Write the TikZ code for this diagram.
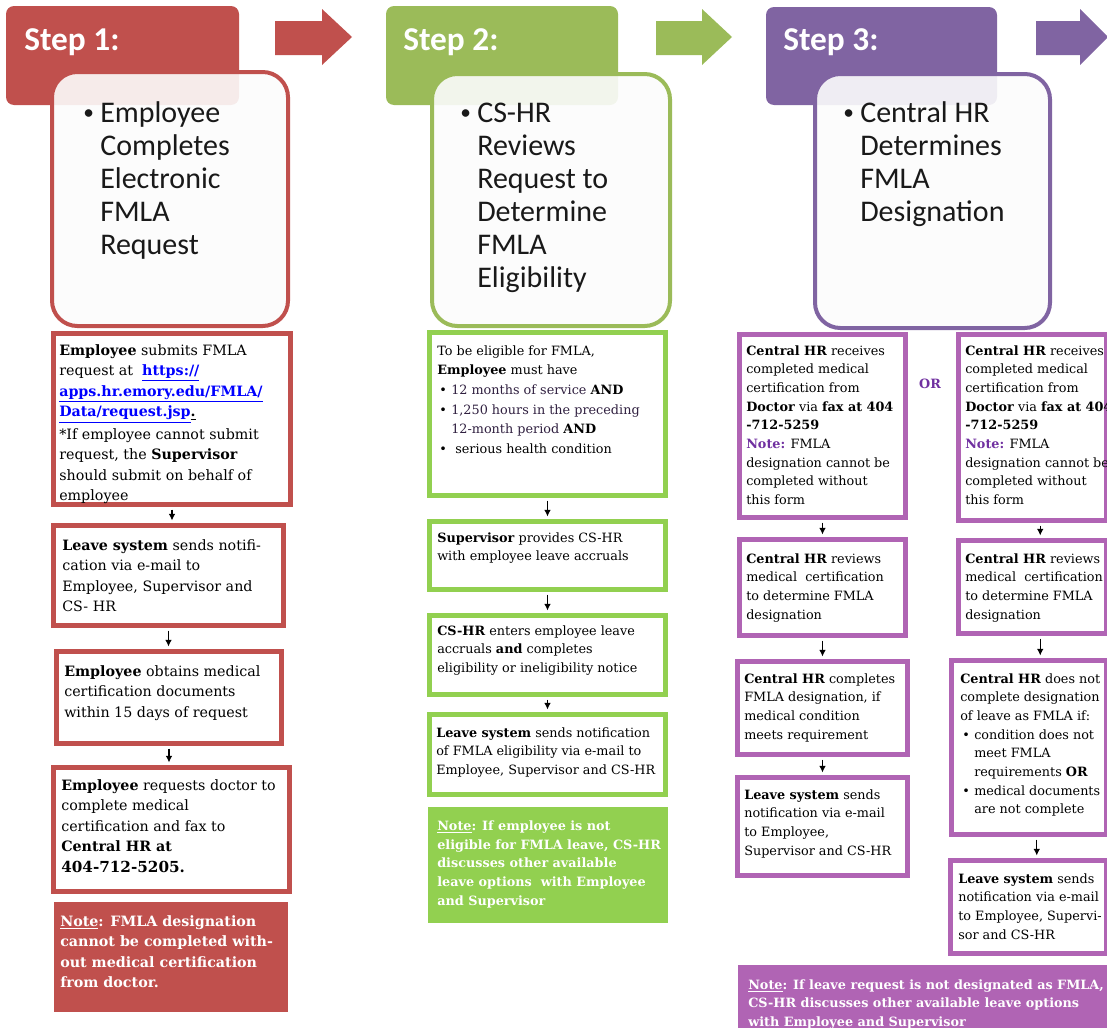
\documentclass[tikz,border=0pt]{standalone}
\usepackage{fontspec}
\setmainfont{DejaVu Serif}
\newfontfamily\calib{Carlito}
\usetikzlibrary{fit,arrows.meta}
\definecolor{stepred}{HTML}{C0504D}
\definecolor{stepgreen}{HTML}{9BBB59}
\definecolor{boxgreen}{HTML}{92D050}
\definecolor{steppurple}{HTML}{8064A2}
\definecolor{boxpurple}{HTML}{B064B4}
\definecolor{darkpurple}{HTML}{7030A0}
\definecolor{bullettxt}{HTML}{302040}
\definecolor{linkblue}{HTML}{0000FF}
\newcommand{\bul}{\makebox[10.5pt][l]{\hspace{1.5pt}•}}
\newcommand{\ind}{\hspace*{10.5pt}}
\newcommand{\sbul}{\makebox[11.25pt][l]{\hspace{-1.5pt}\raisebox{2pt}{\fontsize{16}{16}\selectfont •}}}
\newcommand{\sind}{\hspace*{11.25pt}}
\tikzset{
  hdr/.style={rounded corners=6pt, inner sep=0pt},
  stepbox/.style={draw, line width=3pt, rounded corners=19pt, fill=white!99!black, fill opacity=0.9, inner sep=0pt},
  hdrtxt/.style={anchor=base west, inner sep=0pt, text=white, font=\calib\bfseries\fontsize{25}{30}\selectfont},
  steptxt/.style={anchor=north west, inner sep=0pt, align=left, text=black!90, font=\calib\fontsize{22.5}{24.75}\selectfont},
  flowbox/.style={draw, line width=3.75pt, inner sep=0pt, fill=white},
  notebox/.style={inner sep=0pt},
  ftxtA/.style={anchor=north west, inner sep=0pt, align=left, font=\fontsize{10.7}{15.4}\selectfont},
  ftxtAA/.style={anchor=north west, inner sep=0pt, align=left, font=\fontsize{9.6}{14.7}\selectfont},
  ftxtB/.style={anchor=north west, inner sep=0pt, align=left, font=\fontsize{9.6}{13.9}\selectfont},
  ftxtC/.style={anchor=north west, inner sep=0pt, align=left, font=\fontsize{9.6}{14}\selectfont},
  flowarrow/.style={-{Latex[length=5pt,width=5pt]}, line width=0.8pt, shorten <=1.9pt, shorten >=1.9pt}
}
\begin{document}
\begin{tikzpicture}[x=0.75pt, y=-0.75pt]
\useasboundingbox (0,0) rectangle (1107,1028);
\clip (0,0) rectangle (1107,1028);

% ---------- headers ----------
\node[hdr, fill=stepred, fit={(6,6) (239,105)}] (h1) {};
\node[hdr, fill=stepgreen, fit={(386,6) (618,105)}] (h2) {};
\node[hdr, fill=steppurple, fit={(766,7) (997,105)}] (h3) {};
\node[hdrtxt] (h1t) at (24,50) {Step 1:};
\node[hdrtxt] (h2t) at (403,50) {Step 2:};
\node[hdrtxt] (h3t) at (783,50) {Step 3:};

% ---------- block arrows ----------
\fill[stepred] (275,21) -- (322,21) -- (322,9) -- (352,37) -- (322,65) -- (322,55) -- (275,55) -- cycle;
\fill[stepgreen] (656,21) -- (702,21) -- (702,9) -- (732,37) -- (702,65) -- (702,55) -- (656,55) -- cycle;
\fill[steppurple] (1036,21) -- (1080,21) -- (1080,9) -- (1108,37) -- (1080,65) -- (1080,55) -- (1036,55) -- cycle;

% ---------- step boxes ----------
\node[stepbox, draw=stepred, fit={(52,72) (288,326)}] (s1) {};
\node[stepbox, draw=stepgreen, fit={(432,74) (670,326)}] (s2) {};
\node[stepbox, draw=steppurple, fit={(815,74) (1050,328)}] (s3) {};
\node[steptxt] (s1t) at (85,99) {\strut\sbul Employee\\\sind Completes\\\sind Electronic\\\sind FMLA\\\sind Request};
\node[steptxt] (s2t) at (462,99) {\strut\sbul CS-HR\\\sind Reviews\\\sind Request to\\\sind Determine\\\sind FMLA\\\sind Eligibility};
\node[steptxt] (s3t) at (845,99) {\strut\sbul Central HR\\\sind Determines\\\sind FMLA\\\sind Designation};

% ---------- column 1 ----------
\node[flowbox, draw=stepred, fit={(53.5,333.5) (290.5,504.5)}] (b1a) {};
\node[flowbox, draw=stepred, fit={(53.5,525.5) (283.5,625.5)}] (b1b) {};
\node[flowbox, draw=stepred, fit={(56.5,651.5) (281.5,743.5)}] (b1c) {};
\node[flowbox, draw=stepred, fit={(53.5,767.5) (289.5,891.5)}] (b1d) {};
\node[notebox, fill=stepred, fit={(54,902) (288,1012)}] (n1) {};

\node[ftxtA] (t1a) at (59,340.6) {\strut\textbf{Employee} submits FMLA\\
request at \ {\bfseries\color{linkblue}\underline{https://}}\\
{\bfseries\color{linkblue}\underline{apps.hr.emory.edu/FMLA/}}\\
{\bfseries\color{linkblue}\underline{Data/request.jsp}}\underline{\textbf{.}}\\[1.5pt]
*If employee cannot submit\\
request, the \textbf{Supervisor}\\
should submit on behalf of\\
employee};
\node[ftxtA] (t1b) at (62,535.6) {\strut\textbf{Leave system} sends notifi-\\cation via e-mail to\\Employee, Supervisor and\\CS- HR};
\node[ftxtA] (t1c) at (64,661.6) {\strut\textbf{Employee} obtains medical\\certification documents\\within 15 days of request};
\node[ftxtA] (t1d) at (61,775.6) {\strut\textbf{Employee} requests doctor to\\complete medical\\certification and fax to\\\textbf{Central HR at}\\{\fontsize{11.4}{15.4}\selectfont\textbf{404-712-5205.}}};
\node[ftxtA, text=white] (tn1) at (60,911.6) {\strut\bfseries\underline{Note}: FMLA designation\\\bfseries cannot be completed with-\\\bfseries out medical certification\\\bfseries from doctor.};

\draw[flowarrow] (b1a.south) -- (b1a.south |- b1b.north);
\draw[flowarrow] (b1b.south) -- (b1b.south |- b1c.north);
\draw[flowarrow] (b1c.south) -- (b1c.south |- b1d.north);

% ---------- column 2 ----------
\node[flowbox, draw=boxgreen, fit={(429.5,332.5) (665.5,495.5)}] (b2a) {};
\node[flowbox, draw=boxgreen, fit={(429.5,521.5) (665.5,589.5)}] (b2b) {};
\node[flowbox, draw=boxgreen, fit={(429.5,615.5) (665.5,694.5)}] (b2c) {};
\node[flowbox, draw=boxgreen, fit={(429.5,714.5) (665.5,794.5)}] (b2d) {};
\node[notebox, fill=boxgreen, fit={(428,807) (668,923)}] (n2) {};

\node[ftxtAA] (t2a) at (437,341.3) {\strut To be eligible for FMLA,\\
\textbf{Employee} must have\\
\bul{\color{bullettxt}12 months of service} \textbf{AND}\\
\bul{\color{bullettxt}1,250 hours in the preceding}\\
\ind{\color{bullettxt}12-month period} \textbf{AND}\\
\bul\ serious health condition};
\node[ftxtB] (t2b) at (437,529) {\strut\textbf{Supervisor} provides CS-HR\\with employee leave accruals};
\node[ftxtB] (t2c) at (437,622) {\strut\textbf{CS-HR} enters employee leave\\accruals \textbf{and} completes\\eligibility or ineligibility notice};
\node[ftxtB] (t2d) at (436,724) {\strut\textbf{Leave system} sends notification\\of FMLA eligibility via e-mail to\\Employee, Supervisor and CS-HR};
\node[ftxtC, text=white] (tn2) at (437,817) {\strut\bfseries\underline{Note}: If employee is not\\\bfseries eligible for FMLA leave, CS-HR\\\bfseries discusses other available\\\bfseries leave options~ with Employee\\\bfseries and Supervisor};

\draw[flowarrow] (b2a.south) -- (b2a.south |- b2b.north);
\draw[flowarrow] (b2b.south) -- (b2b.south |- b2c.north);
\draw[flowarrow] (b2c.south) -- (b2c.south |- b2d.north);

% ---------- column 3 ----------
\node[flowbox, draw=boxpurple, fit={(739.5,334.5) (905.5,517.5)}] (b3a) {};
\node[flowbox, draw=boxpurple, fit={(958.5,334.5) (1106,520.5)}] (b3b) {};
\node[flowbox, draw=boxpurple, fit={(739.5,539.5) (905.5,635.5)}] (b3c) {};
\node[flowbox, draw=boxpurple, fit={(958.5,540.5) (1106,633.5)}] (b3d) {};
\node[flowbox, draw=boxpurple, fit={(737.5,661.5) (907.5,754.5)}] (b3e) {};
\node[flowbox, draw=boxpurple, fit={(951.5,660.5) (1106,834.5)}] (b3f) {};
\node[flowbox, draw=boxpurple, fit={(737.5,777.5) (907.5,875.5)}] (b3g) {};
\node[flowbox, draw=boxpurple, fit={(950.5,860.5) (1106,953.5)}] (b3h) {};
\node[notebox, fill=boxpurple, fit={(738,965) (1120,1040)}] (n3) {};

\node[ftxtC] (t3a) at (746,341.9) {\strut\textbf{Central HR} receives\\completed medical\\certification from\\\textbf{Doctor} via \textbf{fax at 404}\\\textbf{-712-5259}\\{\color{darkpurple}\textbf{Note:}} FMLA\\designation cannot be\\completed without\\this form};
\node[ftxtC] (t3b) at (965,341.9) {\strut\textbf{Central HR} receives\\completed medical\\certification from\\\textbf{Doctor} via \textbf{fax at 404}\\\textbf{-712-5259}\\{\color{darkpurple}\textbf{Note:}} FMLA\\designation cannot be\\completed without\\this form};
\node[font=\fontsize{9.6}{14}\selectfont\bfseries, text=darkpurple, inner sep=0pt] (or) at (930,384) {OR};
\node[ftxtC] (t3c) at (746,549.9) {\strut\textbf{Central HR} reviews\\medical~ certification\\to determine FMLA\\designation};
\node[ftxtC] (t3d) at (965,549.9) {\strut\textbf{Central HR} reviews\\medical~ certification\\to determine FMLA\\designation};
\node[ftxtC] (t3e) at (744,669.9) {\strut\textbf{Central HR} completes\\FMLA designation, if\\medical condition\\meets requirement};
\node[ftxtC] (t3f) at (960,669.9) {\strut\textbf{Central HR} does not\\complete designation\\of leave as FMLA if:\\\bul condition does not\\\ind meet FMLA\\\ind requirements \textbf{OR}\\\bul medical documents\\\ind are not complete};
\node[ftxtC] (t3g) at (744,785.9) {\strut\textbf{Leave system} sends\\notification via e-mail\\to Employee,\\Supervisor and CS-HR};
\node[ftxtC] (t3h) at (958,869.9) {\strut\textbf{Leave system} sends\\notification via e-mail\\to Employee, Supervi-\\sor and CS-HR};
\node[ftxtC, text=white] (tn3) at (748,975.9) {\strut\bfseries\underline{Note}: If leave request is not designated as FMLA,\\\bfseries CS-HR discusses other available leave options\\\bfseries with Employee and Supervisor};

\draw[flowarrow] (b3a.south) -- (b3a.south |- b3c.north);
\draw[flowarrow] (b3c.south) -- (b3c.south |- b3e.north);
\draw[flowarrow] (b3e.south) -- (b3e.south |- b3g.north);
\draw[flowarrow] ([xshift=6pt]b3b.south) -- ([xshift=6pt]b3b.south |- b3d.north);
\draw[flowarrow] ([xshift=6pt]b3d.south) -- ([xshift=6pt]b3d.south |- b3f.north);
\draw[flowarrow] ([xshift=6pt]b3f.south) -- ([xshift=6pt]b3f.south |- b3h.north);
\end{tikzpicture}
\end{document}
